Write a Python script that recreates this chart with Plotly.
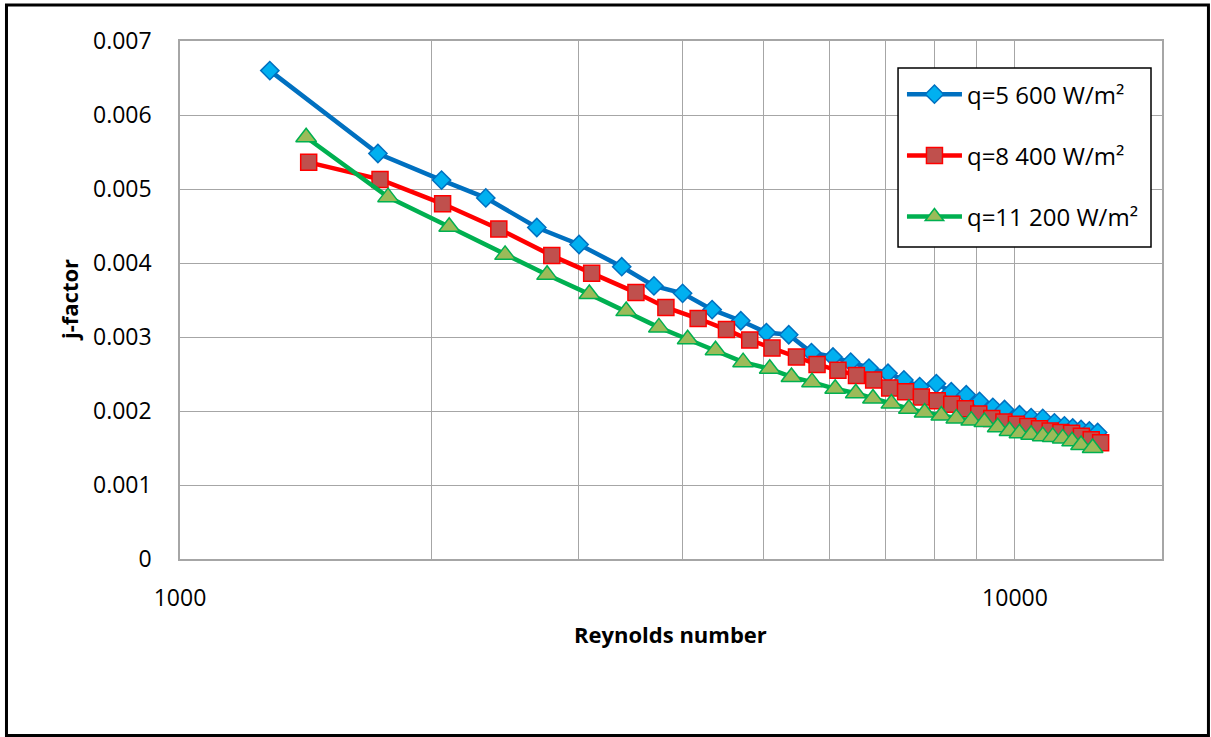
import plotly.graph_objects as go

# ---- data ----
re_q5600 = [1281, 1726, 2057, 2324, 2675, 3006, 3381, 3695, 3999, 4338, 4695, 5039, 5359, 5705,
            6054, 6357, 6686, 7046, 7362, 7689, 8051, 8389, 8743, 9069, 9408, 9716, 10125, 10456,
            10796, 11149, 11462, 11727, 11999, 12277, 12561]
j_q5600 = [0.00660, 0.00548, 0.00512, 0.00488, 0.00448, 0.00425, 0.00395, 0.00369, 0.00359, 0.00337,
           0.00322, 0.00306, 0.00303, 0.00279, 0.00273, 0.00266, 0.00258, 0.00251, 0.00242, 0.00233,
           0.00237, 0.00226, 0.00222, 0.00213, 0.00205, 0.00202, 0.00195, 0.00191, 0.00190, 0.00184,
           0.00180, 0.00177, 0.00175, 0.00173, 0.00171]

re_q8400 = [1426, 1736, 2063, 2409, 2788, 3112, 3516, 3819, 4174, 4513, 4812, 5117, 5474, 5794,
            6138, 6459, 6773, 7079, 7396, 7725, 8070, 8400, 8720, 9050, 9380, 9700, 10040, 10360,
            10700, 11020, 11350, 11690, 12010, 12340, 12665]
j_q8400 = [0.00536, 0.00513, 0.00480, 0.00446, 0.00410, 0.00386, 0.00360, 0.00340, 0.00325, 0.00310,
           0.00296, 0.00285, 0.00273, 0.00263, 0.00255, 0.00248, 0.00242, 0.00231, 0.00226, 0.00219,
           0.00214, 0.00209, 0.00203, 0.00196, 0.00190, 0.00185, 0.00182, 0.00179, 0.00176, 0.00173,
           0.00171, 0.00170, 0.00166, 0.00161, 0.00157]

re_q11200 = [1416, 1775, 2101, 2451, 2752, 3092, 3423, 3746, 4055, 4379, 4725, 5085, 5399, 5714,
             6091, 6447, 6760, 7112, 7464, 7795, 8162, 8507, 8864, 9192, 9535, 9850, 10125, 10456,
             10796, 11097, 11408, 11707, 11999, 12389]
j_q11200 = [0.00570, 0.00489, 0.00449, 0.00411, 0.00384, 0.00358, 0.00335, 0.00313, 0.00297, 0.00282,
            0.00266, 0.00257, 0.00246, 0.00239, 0.00230, 0.00224, 0.00217, 0.00210, 0.00203, 0.00198,
            0.00194, 0.00190, 0.00187, 0.00185, 0.00178, 0.00173, 0.00170, 0.00168, 0.00166, 0.00165,
            0.00163, 0.00159, 0.00154, 0.00150]

series_names = ["q=5 600 W/m²", "q=8 400 W/m²", "q=11 200 W/m²"]

x_tickvals = [1000, 2000, 3000, 4000, 5000, 6000, 7000, 8000, 9000, 10000]
x_ticktext = ["1000", "", "", "", "", "", "", "", "", "10000"]
y_tickvals = [0, 0.001, 0.002, 0.003, 0.004, 0.005, 0.006, 0.007]
y_ticktext = ["0", "0.001", "0.002", "0.003", "0.004", "0.005", "0.006", "0.007"]

FONT = "Open Sans"
GRID = "#a6a6a6"

fig = go.Figure()
fig.add_trace(go.Scatter(
    x=re_q5600, y=j_q5600, name=series_names[0], mode="lines+markers", legendgroup="a",
    line=dict(color="#0070C0", width=4.5),
    marker=dict(symbol="diamond", size=14, color="#00B0F0", line=dict(color="#0070C0", width=1.5))))
fig.add_trace(go.Scatter(
    x=re_q8400, y=j_q8400, name=series_names[1], mode="lines+markers", legendgroup="b",
    line=dict(color="#FF0000", width=4.5),
    marker=dict(symbol="square", size=16, color="#C0504D", line=dict(color="#FF0000", width=1.5))))
fig.add_trace(go.Scatter(
    x=re_q11200, y=j_q11200, name=series_names[2], mode="lines+markers", legendgroup="c",
    line=dict(color="#00B050", width=4.5),
    marker=dict(symbol="triangle-up", size=18, color="#9BBB59", line=dict(color="#00B050", width=1.5))))

fig.update_layout(
    width=1211, height=737,
    margin=dict(l=180, r=49, t=41, b=178),
    paper_bgcolor="white", plot_bgcolor="white",
    font=dict(family=FONT, size=23, color="black"),
    showlegend=True,
    legend=dict(
        x=0.7352, y=0.9400, xanchor="left", yanchor="top",
        bgcolor="rgba(0,0,0,0)", borderwidth=0,
        font=dict(family=FONT, size=24, color="black"),
        traceorder="grouped", tracegroupgap=27, itemwidth=55,
    ),
    xaxis=dict(
        type="log", range=[3, 4.1761],
        tickmode="array", tickvals=x_tickvals, ticktext=x_ticktext,
        showgrid=True, gridcolor=GRID, gridwidth=1.3,
        showline=True, linecolor=GRID, linewidth=1.5, mirror=True,
        ticks="", ticklabelstandoff=18, zeroline=False,
    ),
    yaxis=dict(
        range=[0, 0.007],
        tickmode="array", tickvals=y_tickvals, ticktext=y_ticktext,
        showgrid=True, gridcolor=GRID, gridwidth=1.3,
        showline=True, linecolor=GRID, linewidth=1.5, mirror=True,
        ticks="", ticklabelstandoff=22, zeroline=False,
    ),
    annotations=[
        dict(text="<b>Reynolds number</b>", xref="paper", yref="paper", x=0.4995, y=-0.1448,
             xanchor="center", yanchor="middle", showarrow=False, font=dict(family=FONT, size=22)),
        dict(text="<b>j-factor</b>", xref="paper", yref="paper", x=-0.1130, y=0.5,
             xanchor="center", yanchor="middle", textangle=-90, showarrow=False,
             font=dict(family=FONT, size=22)),
    ],
    shapes=[
        dict(type="rect", xref="paper", yref="paper", x0=-0.1767, x1=1.0473, y0=-0.3407, y1=1.0695,
             line=dict(color="black", width=3), fillcolor="rgba(0,0,0,0)", layer="below"),
        dict(type="rect", xref="paper", yref="paper", x0=0.7312, x1=0.9888, y0=0.6023, y1=0.9479,
             line=dict(color="black", width=1.5), fillcolor="white", layer="above"),
    ],
)

fig.write_html("out.html")
